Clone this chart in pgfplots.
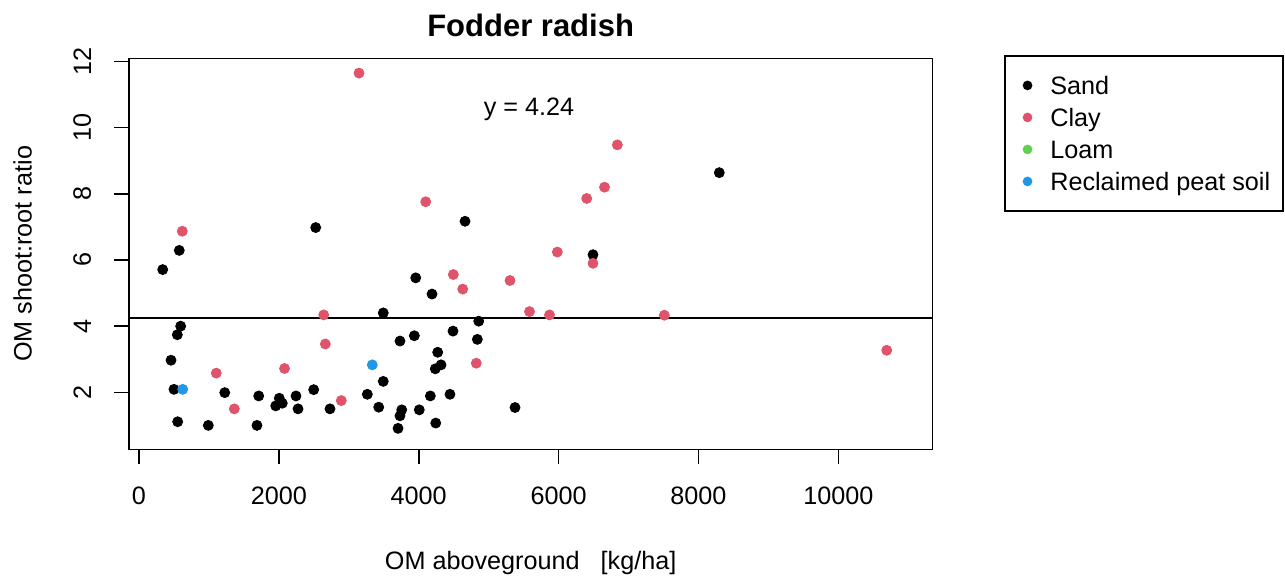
\documentclass[border=0pt]{standalone}
\usepackage{fontspec}
\setmainfont{Liberation Sans}
\usepackage{pgfplots}
\pgfplotsset{compat=1.18}
\definecolor{rclay}{HTML}{DF536B}
\definecolor{rloam}{HTML}{61D04F}
\definecolor{rpeat}{HTML}{2297E6}
\begin{document}
\begin{tikzpicture}
\path[use as bounding box] (0,0) rectangle (642.5pt,289.5pt);
\begin{axis}[
  at={(64.5pt,64.85pt)}, anchor=south west,
  width=401.65pt, height=195.5pt, scale only axis,
  xmin=-143, xmax=11344, ymin=0.277, ymax=12.097,
  xtick={0,2000,4000,6000,8000,10000},
  ytick={2,4,6,8,10,12},
  tick pos=left, tick align=outside,
  major tick length=7.5pt,
  tick style={black, line width=0.8pt},
  axis line style={line width=0.8pt},
  scaled x ticks=false,
  /pgf/number format/assume math mode=true,
  /pgf/number format/1000 sep={},
  tick label style={font=\fontsize{12.6}{15}\selectfont},
  xticklabel style={anchor=north, inner sep=0pt},
  yticklabel style={rotate=90, anchor=south, inner sep=0pt},
  xticklabel shift=11.2pt,
  yticklabel shift=11.2pt,
  title={Fodder radish},
  title style={at={(axis description cs:0.5,1.0256)}, anchor=base, font=\fontsize{15.5}{18}\selectfont\bfseries},
  xlabel={OM aboveground\ \ \ [kg/ha]},
  xlabel style={at={(axis description cs:0.5,-0.3069)}, anchor=base, font=\fontsize{12.6}{15}\selectfont},
  ylabel={OM shoot:root ratio},
  ylabel style={at={(axis description cs:-0.1211,0.5)}, anchor=base, font=\fontsize{12.6}{15}\selectfont},
  legend style={at={(1.0893,1.0084)}, anchor=north west, draw=black, line width=0.8pt,
    inner xsep=6.35pt, inner ysep=6.8pt, font=\fontsize{12.6}{15}\selectfont,
    row sep=0pt, /tikz/column sep=0pt,
    nodes={inner sep=0pt, text height=12.1pt, text depth=3.15pt}},
  legend cell align=left,
  legdot/.style={legend image code/.code={\path (0pt,-7.6pt) (15.6pt,7.6pt); \fill[##1] (4.6pt,0pt) circle (2pt);}},
]
\addplot[only marks, mark=*, mark size=2.5pt, color=black, legdot] coordinates {
(339,5.71) (576,6.29) (596,4.00) (548,3.74) (458,2.97) (500,2.09) (553,1.11)
(991,1.00) (1226,1.99) (1687,1.00) (1712,1.89) (2006,1.82) (1955,1.59) (2049,1.67)
(2245,1.89) (2274,1.50) (2498,2.08) (2527,6.98) (2731,1.50) (3265,1.94) (3428,1.55)
(3493,2.33) (3493,4.40) (3732,3.55) (3757,1.47) (3732,1.29) (3704,0.91) (3937,3.71)
(3957,5.46) (4008,1.47) (4166,1.89) (4190,4.97) (4243,1.07) (4237,2.71) (4319,2.83)
(4271,3.21) (4447,1.94) (4490,3.85) (4662,7.17) (4838,3.60) (4858,4.15) (5377,1.54)
(6492,6.16) (8298,8.64)
};
\addplot[only marks, mark=*, mark size=2.5pt, color=rclay, legdot] coordinates {
(619,6.87) (1105,2.58) (1363,1.50) (2081,2.72) (2641,4.34) (2664,3.46) (2893,1.75)
(3146,11.65) (4100,7.76) (4495,5.56) (4629,5.12) (4823,2.88) (5305,5.38) (5584,4.44)
(5870,4.34) (5982,6.24) (6402,7.86) (6492,5.90) (6657,8.20) (6840,9.48) (7512,4.33)
(10692,3.27)
};
\addlegendimage{only marks, mark=*, color=rloam, legdot}
\addplot[only marks, mark=*, mark size=2.5pt, color=rpeat, legdot] coordinates {
(625,2.09) (3336,2.83)
};
\addplot[black, line width=0.8pt, forget plot] coordinates {(-143,4.24) (11344,4.24)};
\node[anchor=base, font=\fontsize{12.6}{15}\selectfont] at (axis cs:5577,10.38) {y = 4.24};
\legend{Sand,Clay,Loam,Reclaimed peat soil}
\end{axis}
\end{tikzpicture}
\end{document}
